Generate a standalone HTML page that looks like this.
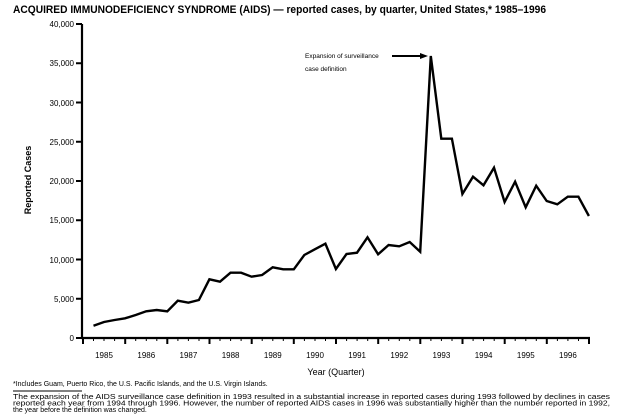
<!DOCTYPE html>
<html><head><meta charset="utf-8"><style>html,body{margin:0;padding:0;background:#fff}svg{display:block}</style></head>
<body>
<svg width="623" height="419" viewBox="0 0 623 419" xmlns="http://www.w3.org/2000/svg" font-family="Liberation Sans, sans-serif" fill="#000">
<text x="13" y="13" font-size="11" font-weight="bold" textLength="533" lengthAdjust="spacingAndGlyphs">ACQUIRED IMMUNODEFICIENCY SYNDROME (AIDS) — reported cases, by quarter, United States,* 1985–1996</text>
<!-- y axis -->
<line x1="82" y1="24" x2="82" y2="339" stroke="#000" stroke-width="2.2"/>
<g stroke="#000" stroke-width="2">
<line x1="76" y1="338" x2="82" y2="338"/><line x1="76" y1="298.75" x2="82" y2="298.75"/>
<line x1="76" y1="259.5" x2="82" y2="259.5"/><line x1="76" y1="220.25" x2="82" y2="220.25"/>
<line x1="76" y1="181" x2="82" y2="181"/><line x1="76" y1="141.75" x2="82" y2="141.75"/>
<line x1="76" y1="102.5" x2="82" y2="102.5"/><line x1="76" y1="63.25" x2="82" y2="63.25"/>
<line x1="76" y1="24" x2="82" y2="24"/>
</g>
<g font-size="8" text-anchor="end">
<text x="74" y="341">0</text><text x="74" y="302">5,000</text><text x="74" y="263">10,000</text>
<text x="74" y="223">15,000</text><text x="74" y="184">20,000</text><text x="74" y="145">25,000</text>
<text x="74" y="106">30,000</text><text x="74" y="66">35,000</text><text x="74" y="27">40,000</text>
</g>
<text transform="translate(31,180) rotate(-90)" font-size="9" font-weight="bold" text-anchor="middle">Reported Cases</text>
<!-- x axis -->
<line x1="81" y1="338" x2="590" y2="338" stroke="#000" stroke-width="2.2"/>
<g stroke="#000" stroke-width="2" id="ticks">
<line x1="83" y1="338" x2="83" y2="344"/><line x1="125.2" y1="338" x2="125.2" y2="344"/>
<line x1="167.3" y1="338" x2="167.3" y2="344"/><line x1="209.5" y1="338" x2="209.5" y2="344"/>
<line x1="251.7" y1="338" x2="251.7" y2="344"/><line x1="293.8" y1="338" x2="293.8" y2="344"/>
<line x1="336" y1="338" x2="336" y2="344"/><line x1="378.2" y1="338" x2="378.2" y2="344"/>
<line x1="420.3" y1="338" x2="420.3" y2="344"/><line x1="462.5" y1="338" x2="462.5" y2="344"/>
<line x1="504.7" y1="338" x2="504.7" y2="344"/><line x1="546.8" y1="338" x2="546.8" y2="344"/>
<line x1="589" y1="338" x2="589" y2="344"/>
</g>
<g stroke="#000" stroke-width="1">
<path d="M93.5 338v3M104 338v3M114.6 338v3M135.7 338v3M146.3 338v3M156.8 338v3M177.9 338v3M188.4 338v3M199 338v3M220 338v3M230.6 338v3M241.1 338v3M262.2 338v3M272.8 338v3M283.3 338v3M304.4 338v3M315 338v3M325.5 338v3M346.6 338v3M357.1 338v3M367.7 338v3M388.7 338v3M399.3 338v3M409.8 338v3M430.9 338v3M441.4 338v3M452 338v3M473.1 338v3M483.6 338v3M494.2 338v3M515.2 338v3M525.8 338v3M536.3 338v3M557.4 338v3M567.9 338v3M578.5 338v3"/>
</g>
<g font-size="8" text-anchor="middle">
<text x="104" y="358">1985</text><text x="146.3" y="358">1986</text><text x="188.4" y="358">1987</text>
<text x="230.6" y="358">1988</text><text x="272.8" y="358">1989</text><text x="315" y="358">1990</text>
<text x="357.1" y="358">1991</text><text x="399.3" y="358">1992</text><text x="441.4" y="358">1993</text>
<text x="483.6" y="358">1994</text><text x="525.8" y="358">1995</text><text x="567.9" y="358">1996</text>
</g>
<text x="336" y="375" font-size="9" text-anchor="middle">Year (Quarter)</text>
<!-- series -->
<polyline fill="none" stroke="#000" stroke-width="2.4" stroke-linejoin="miter" points="93.5,325.7 104,322 114.6,320 125.1,318.3 135.7,315 146.2,311.3 156.7,310 167.3,311.3 177.8,300.7 188.4,302.7 198.9,300 209.4,279.3 220,281.7 230.5,272.7 241.1,272.7 251.6,276.7 262.1,275 272.7,267.3 283.2,269.3 293.8,269.3 304.3,255 314.8,249.3 325.4,243.7 335.9,269 346.5,254 357,252.7 367.5,237.3 378.1,254.3 388.6,245 399.2,246.3 409.7,242 420.2,251.7 430.8,56 441.3,138.7 451.9,138.7 462.4,194 473,176.7 483.5,185.3 494,167.7 504.6,202 515.1,181.7 525.7,207.3 536.2,185.7 546.7,201 557.3,204.3 567.8,196.7 578.4,196.7 588.9,216"/>
<!-- annotation -->
<g font-size="6.5">
<text x="305" y="58">Expansion of surveillance</text>
<text x="305" y="71">case definition</text>
</g>
<line x1="392" y1="56" x2="422" y2="56" stroke="#000" stroke-width="2"/>
<polygon points="428,56 420,53 420,59"/>
<!-- notes -->
<text x="13" y="386" font-size="7">*Includes Guam, Puerto Rico, the U.S. Pacific Islands, and the U.S. Virgin Islands.</text>
<line x1="13" y1="391" x2="82" y2="391" stroke="#000" stroke-width="1"/>
<g font-size="7">
<text x="13" y="399" textLength="597" lengthAdjust="spacingAndGlyphs">The expansion of the AIDS surveillance case definition in 1993 resulted in a substantial increase in reported cases during 1993 followed by declines in cases</text>
<text x="13" y="405.5" textLength="597" lengthAdjust="spacingAndGlyphs">reported each year from 1994 through 1996. However, the number of reported AIDS cases in 1996 was substantially higher than the number reported in 1992,</text>
<text x="13" y="412">the year before the definition was changed.</text>
</g>
</svg>
</body></html>
